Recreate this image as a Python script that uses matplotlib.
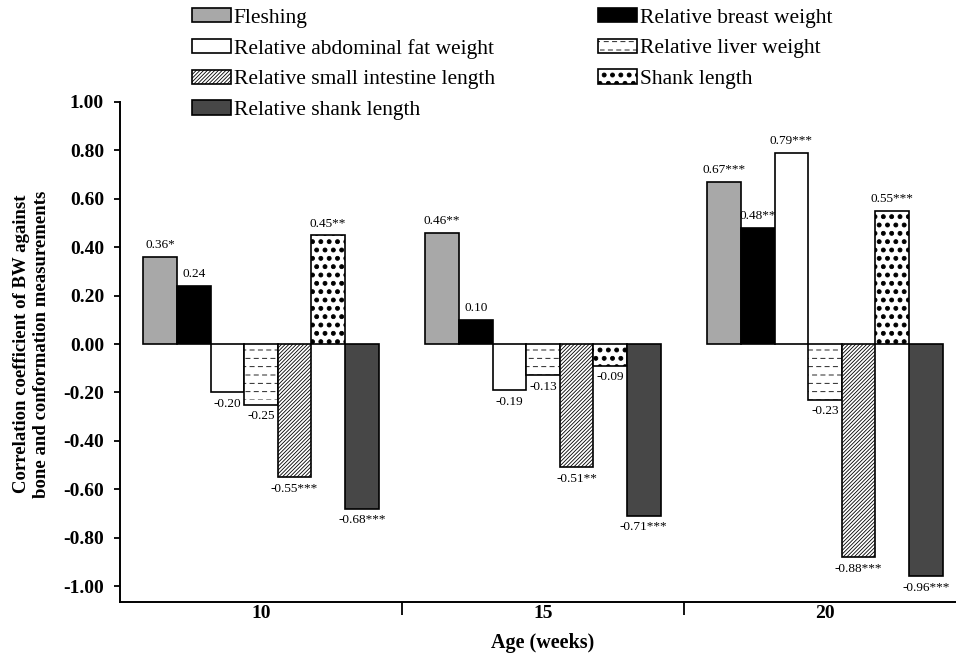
import numpy as np
import matplotlib
matplotlib.use("Agg")
import matplotlib.pyplot as plt
import matplotlib.hatch as mh
from matplotlib.path import Path

# ---------------- data ----------------
ages = ["10", "15", "20"]
series = ["Fleshing", "Relative breast weight", "Relative abdominal fat weight",
          "Relative liver weight", "Relative small intestine length",
          "Shank length", "Relative shank length"]
fleshing = [0.36, 0.46, 0.67]
breast = [0.24, 0.10, 0.48]
abdominal = [-0.20, -0.19, 0.79]
liver = [-0.25, -0.13, -0.23]
intestine = [-0.55, -0.51, -0.88]
shank = [0.45, -0.09, 0.55]
rel_shank = [-0.68, -0.71, -0.96]
fleshing_sig = ["*", "**", "***"]
breast_sig = ["", "", "**"]
abdominal_sig = ["", "", "***"]
liver_sig = ["", "", ""]
intestine_sig = ["***", "**", "***"]
shank_sig = ["**", "", "***"]
rel_shank_sig = ["***", "***", "***"]
yticks = [-1.0, -0.8, -0.6, -0.4, -0.2, 0.0, 0.2, 0.4, 0.6, 0.8, 1.0]

values = [fleshing, breast, abdominal, liver, intestine, shank, rel_shank]
sigs = [fleshing_sig, breast_sig, abdominal_sig, liver_sig, intestine_sig,
        shank_sig, rel_shank_sig]

# ---------------- custom hatches ----------------
class DashHatch(mh.HatchPatternBase):
    """Horizontal dashed lines for '-' hatch."""
    def __init__(self, hatch, density):
        self.num_lines = int((hatch.count('-') + hatch.count('+')) * density)
        self.ndash = self.num_lines
        self.num_vertices = self.num_lines * self.ndash * 2

    def set_vertices_and_codes(self, vertices, codes):
        ys = np.linspace(0, 1, self.num_lines, endpoint=False)
        period = 1.0 / max(self.ndash, 1)
        k = 0
        for i, y in enumerate(ys):
            shift = period / 2 if i % 2 else 0.0
            for j in range(self.ndash):
                x0 = j * period + shift
                vertices[k] = (x0, y)
                vertices[k + 1] = (x0 + 0.5 * period, y)
                k += 2
        codes[0::2] = Path.MOVETO
        codes[1::2] = Path.LINETO

mh._hatch_types = [DashHatch if t is mh.HorizontalHatch else t for t in mh._hatch_types]
mh.SmallFilledCircles.size = 0.24

plt.rcParams['font.family'] = ['Liberation Serif', 'DejaVu Serif']
plt.rcParams['axes.unicode_minus'] = False
plt.rcParams['hatch.linewidth'] = 0.6

colors = ["#a8a8a8", "#000000", "#ffffff", "#ffffff", "#ffffff", "#ffffff", "#474747"]
hatches = [None, None, None, "--", "/////////", "..", None]

fig = plt.figure(figsize=(9.56, 6.57), dpi=100)
ax = fig.add_axes([120 / 956, 55 / 657, 846 / 956, 500 / 657])

x = np.arange(len(ages))
w = 0.1191
handles = []
for i, (vals, sg) in enumerate(zip(values, sigs)):
    pos = x + (i - 3) * w
    bars = ax.bar(pos, vals, width=w, color=colors[i], edgecolor="black",
                  linewidth=1.2, hatch=hatches[i], label=series[i])
    handles.append(bars)
    for px, v, s in zip(pos, vals, sg):
        if v >= 0:
            ax.annotate(f"{v:.2f}{s}", (px, v), xytext=(0, 4), textcoords="offset points",
                        ha="center", va="bottom", fontsize=9.5)
        else:
            ax.annotate(f"{v:.2f}{s}", (px, v), xytext=(0, -4), textcoords="offset points",
                        ha="center", va="top", fontsize=9.5)

ax.set_xlim(-0.5, 2.5)
ax.set_ylim(-1.066, 1.0)
ax.set_yticks(yticks)
ax.set_yticklabels([f"{t:.2f}" for t in yticks], fontweight="bold", fontsize=14)
ax.set_xticks(x)
ax.set_xticklabels(ages, fontweight="bold", fontsize=14)
ax.tick_params(axis="x", which="major", length=0, pad=2)
ax.set_xticks([0.5, 1.5], minor=True)
ax.tick_params(axis="x", which="minor", length=9, width=1.3, direction="out")
ax.tick_params(axis="y", length=4.5, width=1.3, pad=7)
for s in ["top", "right"]:
    ax.spines[s].set_visible(False)
for s in ["left", "bottom"]:
    ax.spines[s].set_linewidth(1.4)

ax.set_ylabel("Correlation coefficient of BW against\nbone and conformation measurements",
              fontweight="bold", fontsize=13.5, linespacing=1.2)
ax.yaxis.set_label_coords(-0.0827, 0.516)
ax.set_xlabel("Age (weeks)", fontweight="bold", fontsize=14.5, labelpad=8)

# legend: two columns placed separately
col1 = [0, 2, 4, 6]
col2 = [1, 3, 5]
leg_kw = dict(frameon=False, fontsize=15.5, handlelength=1.8, handleheight=0.65,
              handletextpad=0.14, labelspacing=0.51, borderpad=0, borderaxespad=0,
              loc="upper left")
leg1 = fig.legend([handles[i] for i in col1], [series[i] for i in col1],
                  bbox_to_anchor=(192 / 956, 1 - 8 / 657), **leg_kw)
leg2 = fig.legend([handles[i] for i in col2], [series[i] for i in col2],
                  bbox_to_anchor=(598 / 956, 1 - 8 / 657), **leg_kw)

fig.savefig("out.png", dpi=100)
